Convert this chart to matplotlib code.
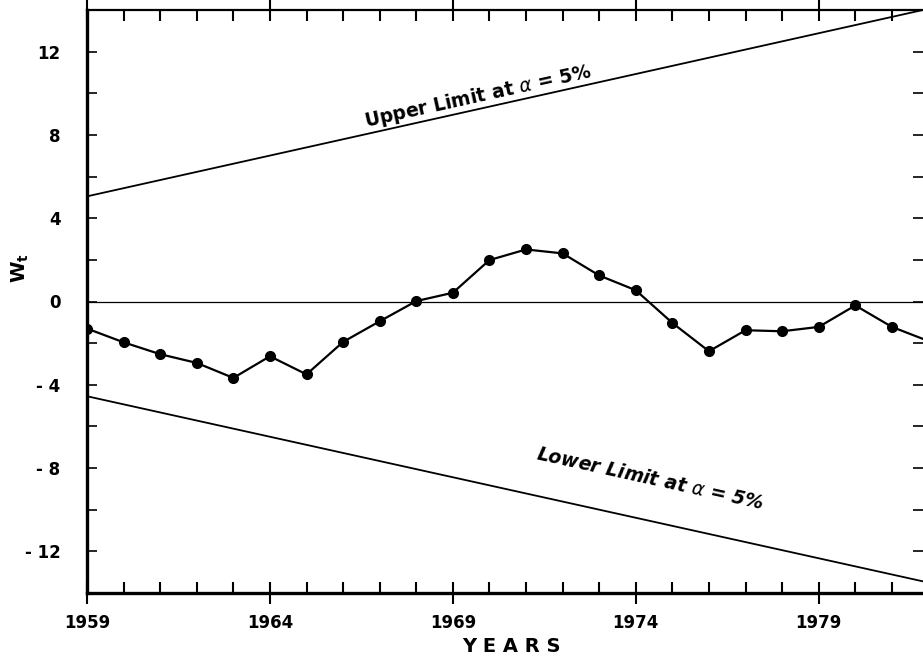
import matplotlib
matplotlib.use("Agg")
import matplotlib.pyplot as plt
from matplotlib.ticker import MultipleLocator, FixedLocator

# ---- data ----
years = list(range(1959, 1983))
wt = [-1.30, -1.96, -2.53, -2.95, -3.67, -2.63, -3.50, -1.94, -0.95, 0.02,
      0.42, 1.99, 2.50, 2.31, 1.25, 0.54, -1.03, -2.39, -1.38, -1.43,
      -1.22, -0.19, -1.22, -1.90]
limit_years = [1959, 1982]
upper_limit = [5.05, 14.06]
lower_limit = [-4.55, -13.50]

xticks = [1959, 1964, 1969, 1974, 1979]
xticklabels = ["1959", "1964", "1969", "1974", "1979"]
yticks = [12, 8, 4, 0, -4, -8, -12]
yticklabels = ["12", "8", "4", "0", "- 4", "- 8", "- 12"]

plt.rcParams['font.family'] = ['DejaVu Sans']

fig = plt.figure(figsize=(9.23, 6.61), dpi=100)
ax = fig.add_axes([87/923, 1-593/661, 1-87/923, (593-10)/661])

ax.set_xlim(1959, 1981.85)
ax.set_ylim(-14, 14)

ax.axhline(0, color='black', lw=0.9, zorder=1)
ax.plot(limit_years, upper_limit, color='black', lw=1.3, zorder=2)
ax.plot(limit_years, lower_limit, color='black', lw=1.3, zorder=2)
ax.plot(years, wt, color='black', lw=1.6, marker='o', markersize=7,
        zorder=3, clip_on=True)

ax.text(1969.7, 9.85, r"Upper Limit at $\alpha$ = 5%", rotation=12.5,
        rotation_mode='anchor', ha='center', va='center', fontsize=13.5,
        fontweight='bold')
ax.text(1974.4, -8.5, r"Lower Limit at $\alpha$ = 5%", rotation=-12.5,
        rotation_mode='anchor', ha='center', va='center', fontsize=13.5,
        fontweight='bold', fontstyle='italic')

# spines
ax.spines['left'].set_linewidth(2.4)
ax.spines['bottom'].set_linewidth(2.4)
ax.spines['top'].set_linewidth(1.6)
ax.spines['right'].set_visible(False)

# ticks
ax.xaxis.set_major_locator(FixedLocator(xticks))
ax.set_xticklabels(xticklabels)
ax.xaxis.set_minor_locator(MultipleLocator(1))
ax.yaxis.set_major_locator(FixedLocator(yticks))
ax.set_yticklabels(yticklabels)
ax.yaxis.set_minor_locator(MultipleLocator(2))

ax.tick_params(axis='x', which='major', direction='inout', length=16, width=1.5,
               top=True, bottom=True, pad=7, labelsize=12)
ax.tick_params(axis='x', which='minor', direction='in', length=8, width=1.5,
               top=True, bottom=True)
ax.tick_params(axis='y', which='major', direction='in', length=7, width=1.2,
               left=True, right=True, pad=19, labelsize=12)
ax.tick_params(axis='y', which='minor', direction='in', length=7, width=1.2,
               left=True, right=True)
for lab in ax.get_xticklabels() + ax.get_yticklabels():
    lab.set_fontweight('bold')

fig.text(511/923, 1-647/661, "Y E A R S", ha='center', va='center',
         fontsize=14, fontweight='bold')
fig.text(20/923, 1-268/661, r"W$_{\mathregular{t}}$", ha='center', va='center',
         rotation=90, fontsize=14, fontweight='bold')

fig.savefig("out.png", dpi=100)
